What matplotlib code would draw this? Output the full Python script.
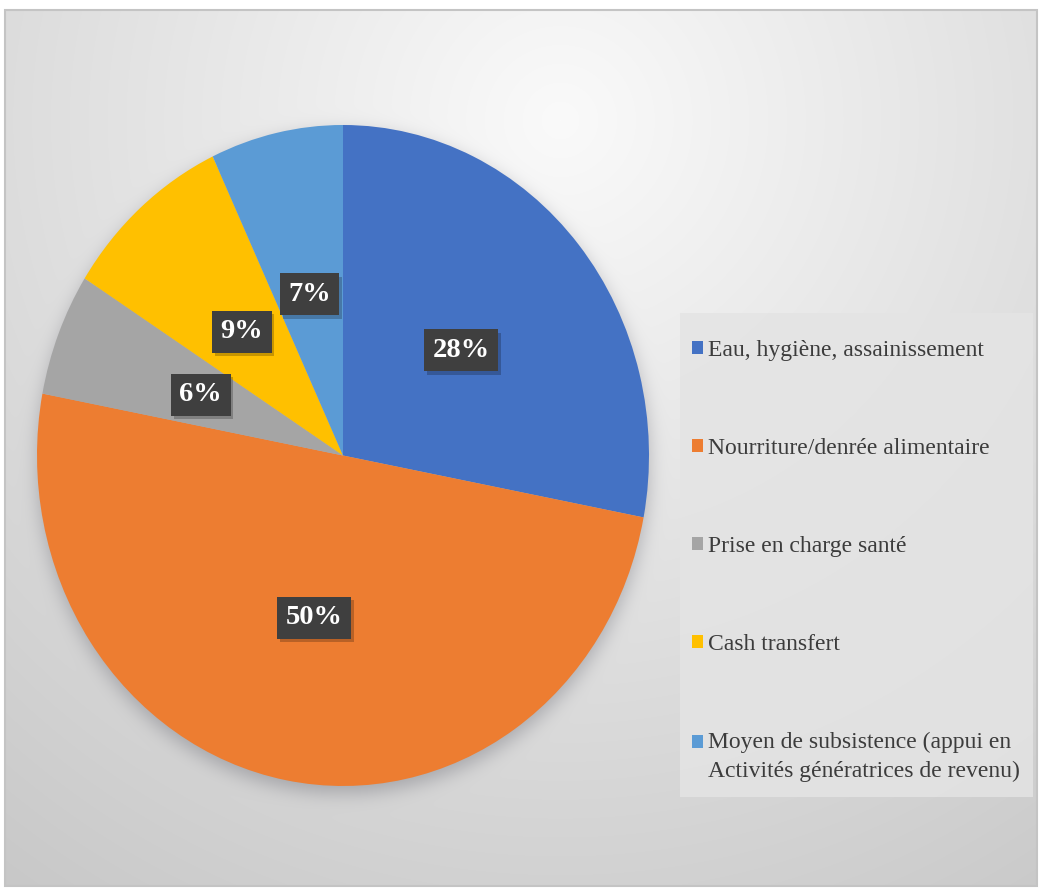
import numpy as np
import matplotlib
matplotlib.use("Agg")
import matplotlib.pyplot as plt
from matplotlib.patches import Rectangle
import matplotlib.patheffects as pe

# Répartition des besoins prioritaires
categories = [
    "Eau, hygiène, assainissement",
    "Nourriture/denrée alimentaire",
    "Prise en charge santé",
    "Cash transfert",
    "Moyen de subsistence (appui en\nActivités génératrices de revenu)",
]
values = [28, 50, 6, 9, 7]
colors = ["#4472C4", "#ED7D31", "#A5A5A5", "#FFC000", "#5B9BD5"]

W, H = 1041, 891
fig = plt.figure(figsize=(W / 100, H / 100), dpi=100)
fig.patch.set_facecolor("white")

# ---- background: soft radial gradient inside a framed chart area ----
yy, xx = np.mgrid[0:H, 0:W].astype(float)
r = np.hypot(xx - 560, yy - 120)
v = 250 - 0.053 * r

# soft shadow under the pie
cx, cy, rx, ry = 343, 462, 306, 331
ell = (((xx - cx) / rx) ** 2 + ((yy - cy) / ry) ** 2 <= 1).astype(float)
k = np.exp(-0.5 * (np.arange(-30, 31) / 9.0) ** 2)
k /= k.sum()
blur = np.apply_along_axis(lambda a: np.convolve(a, k, mode="same"), 0, ell)
blur = np.apply_along_axis(lambda a: np.convolve(a, k, mode="same"), 1, blur)
v = v * (1 - 0.22 * blur)

img = np.stack([v, v, v + 4 * blur], axis=-1) / 255.0
img = np.clip(img, 0, 1)
inside = (xx >= 5) & (xx <= 1037) & (yy >= 10) & (yy <= 886)
img[~inside] = 1.0

bg = fig.add_axes([0, 0, 1, 1], zorder=0)
bg.imshow(img, extent=(0, W, H, 0), interpolation="bilinear", aspect="auto")
bg.set_xlim(0, W)
bg.set_ylim(H, 0)
bg.axis("off")
bg.add_patch(Rectangle((5, 10), 1032, 876, fill=False, ec="#c4c4c4", lw=1.5))

# legend panel
bg.add_patch(Rectangle((680, 313), 353, 484, fc="#e4e4e4", ec="none", alpha=0.85))

# ---- pie ----
ax = fig.add_axes([37 / W, (H - 786) / H, 612 / W, 661 / H], zorder=2)
ax.patch.set_alpha(0)

label_props = dict(color="white", fontsize=20.5, fontweight="bold",
                   family="Liberation Serif")
wedges, texts, autotexts = ax.pie(
    values,
    colors=colors,
    startangle=90,
    counterclock=False,
    autopct=lambda p: f"{p:.0f}%",
    pctdistance=0.5,
    textprops=label_props,
    wedgeprops=dict(linewidth=0),
)
ax.set_aspect("auto")
ax.set_xlim(-1, 1)
ax.set_ylim(-1, 1)
ax.axis("off")

for t in autotexts:
    t.set_bbox(dict(boxstyle="square,pad=0.3", fc="#3f3f3f", ec="none"))
    t.get_bbox_patch().set_path_effects(
        [pe.SimplePatchShadow(offset=(2, -2.5), shadow_rgbFace="black", alpha=0.22),
         pe.Normal()]
    )

# ---- legend ----
leg = fig.legend(
    wedges,
    categories,
    loc="upper left",
    bbox_to_anchor=(692 / W, 1 - 340 / H),
    frameon=False,
    prop=dict(family="Liberation Serif", size=17),
    handlelength=0.47,
    handleheight=0.47,
    handletextpad=0.22,
    labelspacing=3.26,
    borderpad=0,
    borderaxespad=0,
)
for txt in leg.get_texts():
    txt.set_color("#3c3c3c")
    txt.set_linespacing(1.45)

# align the last marker with the first line of its two-line label
last = leg.legend_handles[-1]
last.set_y(last.get_y() + 10.7)

fig.savefig("out.png", dpi=100)
